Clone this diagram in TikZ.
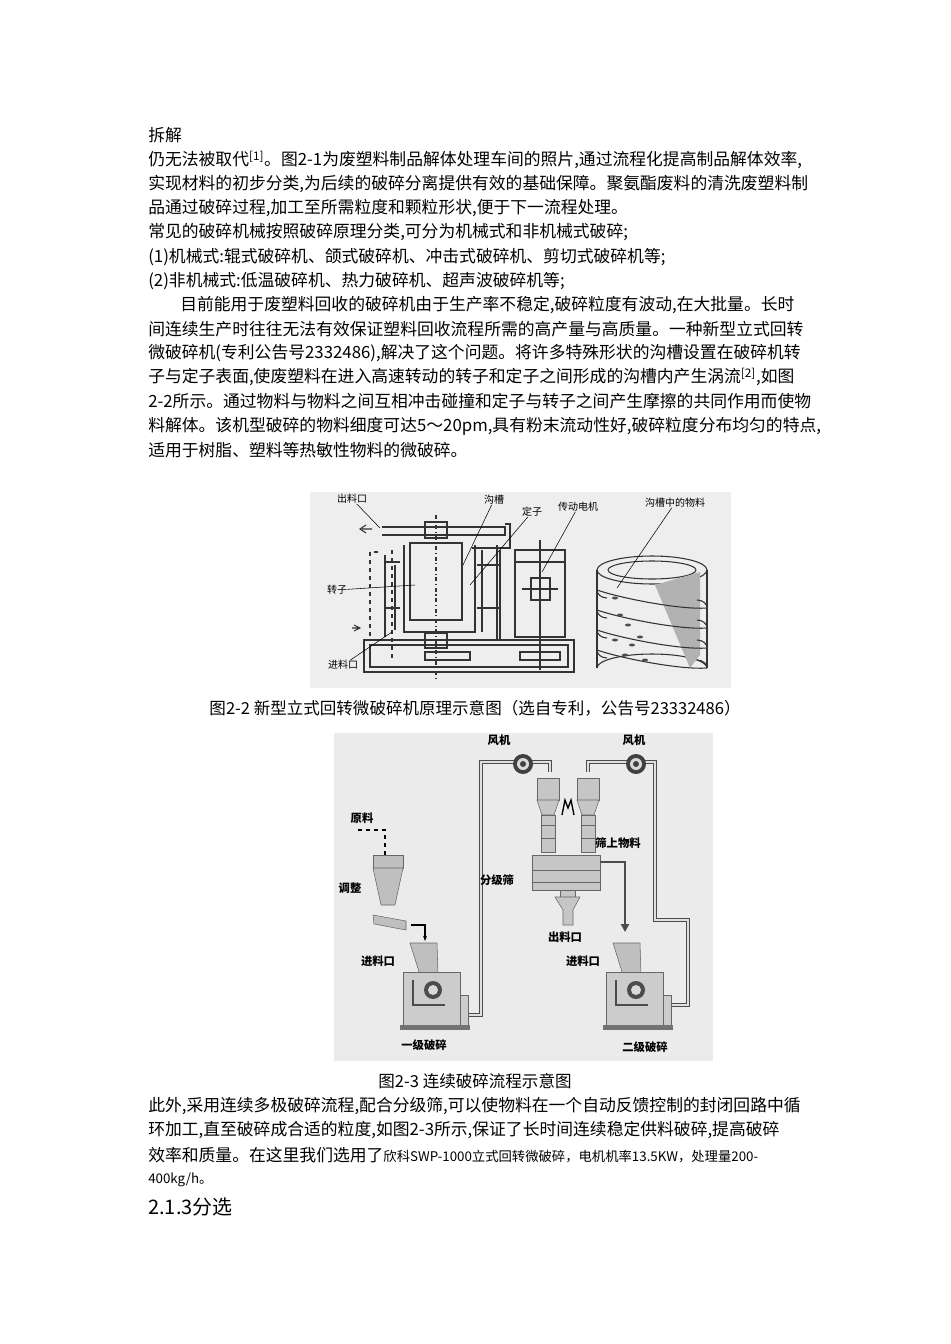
\documentclass[tikz,border=0pt]{standalone}
\usepackage{fontspec}
\newfontfamily\cjk{Noto Sans CJK SC}
\usetikzlibrary{arrows.meta}
\begin{document}
\begin{tikzpicture}[x=0.75pt,y=-0.75pt,
 body/.style={anchor=west,inner sep=0pt,font=\cjk\fontsize{12.6pt}{14pt}\selectfont},
 captext/.style={inner sep=0pt,font=\cjk\fontsize{12.4pt}{14pt}\selectfont},
 lab/.style={inner sep=0pt,font=\cjk\fontsize{7.5pt}{8pt}\selectfont},
 labb/.style={inner sep=0pt,font=\cjk\bfseries\fontsize{8.5pt}{9pt}\selectfont},
 mech/.style={draw=black!80,line width=0.8pt},
 pipe/.style={draw=black!70,line width=3pt},
 pipein/.style={draw=gray!25,line width=1.4pt}]
\fill[white] (0,0) rectangle (950,1344);
\useasboundingbox (0,0) rectangle (950,1344);
% ---------- text ----------
\node[body] (t0) at (148,135) {拆解};
\node[body] (t1) at (148,160) {仍无法被取代\textsuperscript{[1]}。图2-1为废塑料制品解体处理车间的照片,通过流程化提高制品解体效率,};
\node[body] (t2) at (148,184) {实现材料的初步分类,为后续的破碎分离提供有效的基础保障。聚氨酯废料的清洗废塑料制};
\node[body] (t3) at (148,208) {品通过破碎过程,加工至所需粒度和颗粒形状,便于下一流程处理。};
\node[body] (t4) at (148,232) {常见的破碎机械按照破碎原理分类,可分为机械式和非机械式破碎;};
\node[body] (t5) at (148,257) {(1)机械式:辊式破碎机、颌式破碎机、冲击式破碎机、剪切式破碎机等;};
\node[body] (t6) at (148,281) {(2)非机械式:低温破碎机、热力破碎机、超声波破碎机等;};
\node[body] (t7) at (180,305) {目前能用于废塑料回收的破碎机由于生产率不稳定,破碎粒度有波动,在大批量。长时};
\node[body] (t8) at (148,329) {间连续生产时往往无法有效保证塑料回收流程所需的高产量与高质量。一种新型立式回转};
\node[body] (t9) at (148,353) {微破碎机(专利公告号2332486),解决了这个问题。将许多特殊形状的沟槽设置在破碎机转};
\node[body] (t10) at (148,377) {子与定子表面,使废塑料在进入高速转动的转子和定子之间形成的沟槽内产生涡流\textsuperscript{[2]},如图};
\node[body] (t11) at (148,401) {2-2所示。通过物料与物料之间互相冲击碰撞和定子与转子之间产生摩擦的共同作用而使物};
\node[body] (t12) at (148,426) {料解体。该机型破碎的物料细度可达5～20pm,具有粉末流动性好,破碎粒度分布均匀的特点,};
\node[body] (t13) at (148,450) {适用于树脂、塑料等热敏性物料的微破碎。};
% ---------- figure 2-2 ----------
\fill[gray!13] (310,492) rectangle (731,688);
\draw[mech] (364,640) rectangle (574,672);
\draw[mech] (370,645) rectangle (568,667);
\draw[mech] (425,652) rectangle (470,660);
\draw[mech] (520,652) rectangle (560,660);
\draw[mech] (382,527) -- (505,527) -- (505,535) -- (382,535);
\draw[mech] (425,522) rectangle (447,538);
\draw[mech] (505,524) -- (510,524) -- (510,548) -- (472,548);
\draw[mech] (410,543) rectangle (462,620);
\draw[mech] (425,633) rectangle (447,648);
\draw[mech] (404,545) -- (404,632) -- (475,632) -- (475,545);
\draw[mech] (385,555) -- (385,637) (395,565) -- (395,630);
\draw[mech] (385,562) -- (400,562) (385,608) -- (400,608);
\draw[mech] (477,565) -- (500,565) (477,608) -- (500,608);
\draw[mech] (482,550) -- (482,632) (500,550) -- (500,640) (497,545) -- (497,640);
\draw[mech,dashed] (370,552) -- (370,640) (378,552) -- (370,552);
\draw[mech,dash dot] (436,515) -- (436,680);
\draw[mech,dashed] (392,550) -- (392,660);
\draw[mech] (372,529) -- (362,529) (366,525) -- (360,529) -- (366,533);
\draw[mech] (352,628) -- (358,628) (354,625) -- (360,628) -- (354,631);
\draw[mech] (515,550) rectangle (565,562);
\draw[mech] (515,562) rectangle (565,637);
\draw[mech] (531,578) rectangle (550,600);
\draw[mech] (522,589) -- (558,589) (540,540) -- (540,670);
\draw[mech] (597,570) -- (597,668) (707,570) -- (707,668);
\draw[mech] (652,570) ellipse (55 and 14);
\draw[mech] (597,668) arc (180:360:55 and 14);
\draw[mech] (652,570) ellipse (44 and 9);
\fill[gray!60] (655,585) -- (700,572) -- (700,655) -- (690,668) -- cycle;
\foreach \yy in {590,610,630,650}{
 \draw[mech] (597,\yy) .. controls (620,\yy+8) and (680,\yy+20) .. (707,\yy+18);
 \draw[mech] (597,\yy) arc (180:90:10 and 8);
 \draw[mech] (707,\yy+18) arc (0:-90:10 and 8);}
\foreach \p in {(615,598),(620,615),(628,625),(615,640),(640,637),(625,655),(645,660),(632,645)}
 \fill[black!70] \p ellipse (3 and 1.5);
\node[lab] (l1) at (352,499) {出料口};
\node[lab] (l2) at (494,500) {沟槽};
\node[lab] (l3) at (532,512) {定子};
\node[lab] (l4) at (578,507) {传动电机};
\node[lab] (l5) at (675,503) {沟槽中的物料};
\node[lab] (l6) at (337,590) {转子};
\node[lab] (l7) at (343,665) {进料口};
\coordinate (e1) at (380,528); \coordinate (e2) at (463,565);
\coordinate (e3) at (470,585); \coordinate (e4) at (542,572);
\coordinate (e5) at (617,588); \coordinate (e6) at (415,585);
\coordinate (e7) at (392,632);
\draw[thin] (l1) -- (e1); \draw[thin] (l2) -- (e2); \draw[thin] (l3) -- (e3);
\draw[thin] (l4) -- (e4); \draw[thin] (l5) -- (e5); \draw[thin] (l6) -- (e6);
\draw[thin] (l7) -- (e7);
\node[captext] (c1) at (475,708) {图2-2 新型立式回转微破碎机原理示意图（选自专利，公告号23332486）};
% ---------- figure 2-3 ----------
\fill[gray!16] (334,733) rectangle (713,1061);
\draw[pipe] (468,1015) -- (481,1015) -- (481,762) -- (550,762) -- (550,772);
\draw[pipein] (468,1015) -- (481,1015) -- (481,762) -- (550,762) -- (550,772);
\draw[pipe] (588,772) -- (588,762) -- (655,762) -- (655,920) -- (688,920) -- (688,1005) -- (670,1005);
\draw[pipein] (588,772) -- (588,762) -- (655,762) -- (655,920) -- (688,920) -- (688,1005) -- (670,1005);
\foreach \c in {(523,764),(636,764)}{
 \fill[black!75] \c circle (10); \fill[gray!30] \c circle (6); \fill[black!75] \c circle (3);}
\foreach \cx in {548,588}{
 \fill[gray!45,draw=black!60] (\cx-11,778) rectangle (\cx+11,800);
 \fill[gray!45,draw=black!60] (\cx-11,800) -- (\cx+11,800) -- (\cx+6,815) -- (\cx-6,815) -- cycle;
 \fill[gray!45,draw=black!60] (\cx-7,815) rectangle (\cx+7,852);
 \draw[black!60] (\cx-7,825) -- (\cx+7,825) (\cx-7,838) -- (\cx+7,838);}
\draw[line width=1pt] (562,815) -- (565,800) -- (568,808) -- (571,800) -- (574,815);
\fill[gray!45,draw=black!60] (532,855) rectangle (600,890);
\draw[black!60] (532,870) -- (600,870) (532,882) -- (600,882);
\fill[gray!45,draw=black!60] (560,890) rectangle (575,897);
\fill[gray!45,draw=black!60] (555,897) -- (580,897) -- (573,910) -- (573,925) -- (563,925) -- (563,910) -- cycle;
\node[labb] (s1) at (497,880) {分级筛};
\node[labb] (s2) at (618,843) {筛上物料};
\node[labb] (s3) at (565,937) {出料口};
\coordinate (sa) at (600,862); \coordinate (sb) at (625,932);
\draw[line width=2pt,black!70,-{Triangle[length=6pt,width=6pt]}] (sa) -| (sb);
\node[labb] (r1) at (362,818) {原料};
\node[labb] (r2) at (350,888) {调整};
\draw[dashed,thick] (358,830) -- (385,830) -- (385,855);
\fill[gray!50,draw=black!60] (373,855) rectangle (403,868);
\fill[gray!50,draw=black!60] (373,868) -- (403,868) -- (395,905) -- (381,905) -- cycle;
\fill[gray!50,draw=black!60] (373,915) -- (406,921) -- (406,930) -- (374,924) -- cycle;
\coordinate (fa) at (411,925); \coordinate (fb) at (425,941);
\draw[thick,-{Stealth[length=4pt]}] (fa) -| (fb);
\foreach \dx in {0,203}{
 \begin{scope}[xshift=\dx*0.75pt]
 \fill[gray!50,draw=black!60] (410,943) -- (437,943) -- (438,975) -- (420,975) -- cycle;
 \fill[gray!40,draw=black!60] (403,972) rectangle (460,1025);
 \fill[gray!40,draw=black!60] (460,995) rectangle (468,1025);
 \fill[black!55] (400,1025) rectangle (470,1030);
 \fill[black!70] (433,990) circle (9); \fill[gray!30] (433,990) circle (5);
 \draw[black!70,line width=1.5pt] (413,980) -- (413,1005) -- (445,1005);
 \end{scope}}
\node[labb] (k1) at (378,961) {进料口};
\node[labb] (k2) at (583,961) {进料口};
\node[labb] (f1) at (499,740) {风机};
\node[labb] (f2) at (634,740) {风机};
\node[labb] (g1) at (424,1045) {一级破碎};
\node[labb] (g2) at (645,1047) {二级破碎};
\node[captext] (c2) at (475,1081) {图2-3 连续破碎流程示意图};
% ---------- text after ----------
\node[body] (b1) at (148,1106) {此外,采用连续多极破碎流程,配合分级筛,可以使物料在一个自动反馈控制的封闭回路中循};
\node[body] (b2) at (148,1130) {环加工,直至破碎成合适的粒度,如图2-3所示,保证了长时间连续稳定供料破碎,提高破碎};
\node[body] (b3) at (148,1155) {效率和质量。在这里我们选用了{\fontsize{10pt}{12pt}\selectfont 欣科SWP-1000立式回转微破碎，电机机率13.5KW，处理量200-}};
\node[body] (b4) at (148,1180) {\fontsize{10pt}{12pt}\selectfont 400kg/h。};
\node[body] (h1) at (148,1207) {\fontsize{15pt}{18pt}\selectfont 2.1.3分选};
\end{tikzpicture}
\end{document}
